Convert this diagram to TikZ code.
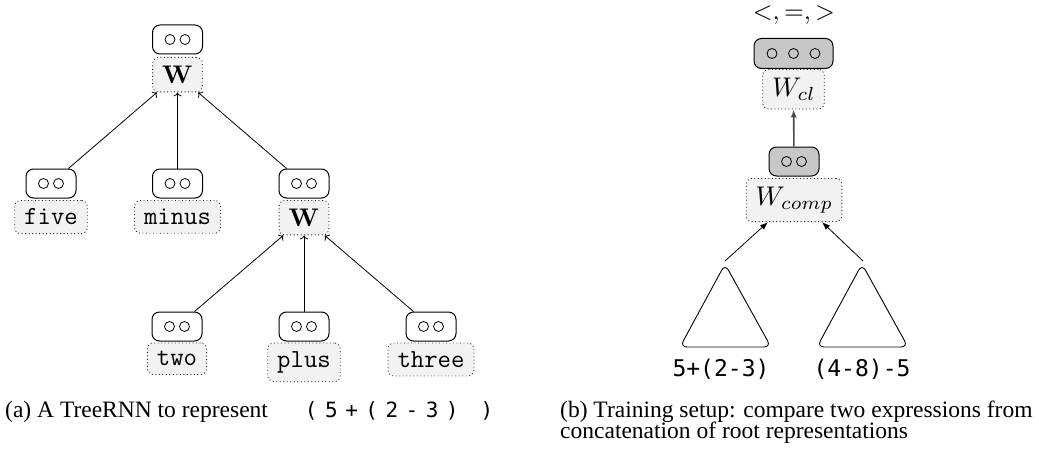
\documentclass[tikz,border=0pt]{standalone}
\usepackage[no-math]{fontspec}
\DeclareFontShape{OT1}{cmr}{m}{n}{<->cmr10}{}
\DeclareFontShape{OT1}{cmr}{bx}{n}{<->cmbx10}{}
\DeclareFontShape{OML}{cmm}{m}{it}{<-20>cmmi7 <20->cmmi10}{}
\DeclareFontShape{OMS}{cmsy}{m}{n}{<-20>cmsy7 <20->cmsy10}{}
\newfontfamily\capfont{Liberation Serif}
\newfontfamily\capcode{DejaVu Sans Mono}
\newfontfamily\expcode{DejaVu Sans Mono}
\newcommand\csp{\hspace{7.5pt}}
\usetikzlibrary{arrows.meta,calc}
\tikzset{
  vec/.style={draw, line width=1pt, rounded corners=7.5pt, minimum width=50pt, minimum height=29pt, inner sep=0pt},
  vecg/.style={vec, fill=black!22},
  vtwo/.style={path picture={\draw[line width=0.8pt] ([xshift=-7.5pt]path picture bounding box.center) circle (5pt) ([xshift=7.5pt]path picture bounding box.center) circle (5pt);}},
  vthree/.style={path picture={\draw[line width=0.8pt] ([xshift=-21.5pt]path picture bounding box.center) circle (5pt) (path picture bounding box.center) circle (5pt) ([xshift=21.5pt]path picture bounding box.center) circle (5pt);}},
  wbox/.style={draw=black!85, dash pattern=on 0.9pt off 2.6pt, line width=0.9pt, fill=black!5, rounded corners=6pt, inner xsep=9.5pt, inner ysep=8.5pt, font=\fontsize{26}{30}\selectfont, anchor=north},
  bbox/.style={wbox, font=\fontsize{25.5}{30}\selectfont},
  mbox/.style={wbox, font=\fontsize{27}{32}\selectfont},
  tarr/.style={-{To[length=4pt,width=8pt]}, line width=0.8pt},
  larr/.style={-{Latex[length=8pt,width=6pt]}, line width=0.8pt},
  capstyle/.style={font=\capfont\fontsize{23.5}{26}\selectfont, inner sep=0pt, anchor=base west},
  expstyle/.style={font=\expcode\fontsize{23}{26}\selectfont, inner sep=0pt},
  tri/.style={line width=0.9pt, rounded corners=7pt},
}
\begin{document}
\begin{tikzpicture}[x=1pt,y=-1pt]
\useasboundingbox (0,0) rectangle (1039,452);
% ---- (a) ----
\node[vec,vtwo] (v1) at (177.5,39.5) {};
\node[bbox] (w1) at (177.5,57) {$\mathbf{W}$};
\node[vec,vtwo] (v2) at (51,183.5) {};
\node[wbox] (l1) at (51,200) {\ttfamily five};
\node[vec,vtwo] (v3) at (177.5,183.5) {};
\node[wbox] (l2) at (177.5,200) {\ttfamily minus};
\node[vec,vtwo] (v4) at (304,183.5) {};
\node[bbox] (w2) at (304,200) {$\mathbf{W}$};
\node[vec,vtwo] (v5) at (177,326.5) {};
\node[wbox] (l3) at (177,342.5) {\ttfamily two};
\node[vec,vtwo] (v6) at (304,326.5) {};
\node[wbox] (l4) at (304,342.5) {\ttfamily plus};
\node[vec,vtwo] (v7) at (431,326.5) {};
\node[wbox] (l5) at (431,342.5) {\ttfamily three};
\draw[tarr] (v2) -- (w1);
\draw[tarr] (v3) -- (w1);
\draw[tarr] (v4) -- (w1);
\draw[tarr] (v5) -- (w2);
\draw[tarr] (v6) -- (w2);
\draw[tarr] (v7) -- (w2);
\node[capstyle] (capa) at (5,417) {(a) A TreeRNN to represent\hspace{37pt}{\capcode\fontsize{21}{24}\selectfont(\csp5\csp+\csp(\csp2\csp-\csp3\csp)\hspace{22pt})}};
% ---- (b) ----
\node[font=\fontsize{25.5}{30}\selectfont, inner sep=0pt] (out) at (794,15) {$<,=,>$};
\node[vecg,vthree,minimum width=79pt,minimum height=30pt] (v8) at (793.5,53.5) {};
\node[mbox] (wcl) at (793.5,69) {$W_{cl}$};
\node[vecg,vtwo] (v9) at (794,161.5) {};
\node[mbox] (wcomp) at (794,178) {$W_{comp}$};
\draw[larr, draw=black!70, line width=1.6pt] (v9) -- (wcl);
\draw[tri] (725,264) -- (680,347) -- (771,347) -- cycle;
\draw[tri] (862,264) -- (817,347) -- (908,347) -- cycle;
\coordinate (s1) at (725,261);
\coordinate (s2) at (863,261);
\coordinate (e1) at ($(wcomp.south)+(-26,0)$);
\coordinate (e2) at ($(wcomp.south)+(28,0)$);
\draw[larr] (s1) -- (e1);
\draw[larr] (s2) -- (e2);
\node[expstyle] (x1) at (721,369) {5+(2-3)};
\node[expstyle] (x2) at (862,369) {(4-8)-5};
\node[capstyle] (capb1) at (560,417) {(b) Training setup: compare two expressions from};
\node[capstyle] (capb2) at (560,438) {concatenation of root representations};
\end{tikzpicture}
\end{document}
